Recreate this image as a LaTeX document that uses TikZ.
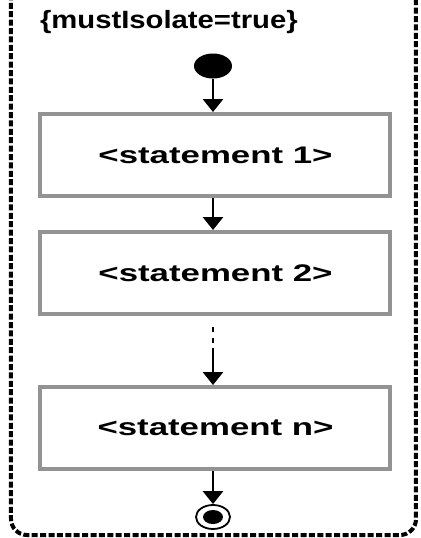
\documentclass[tikz,border=0pt]{standalone}
\usepackage{fontspec}
\setmainfont{Liberation Sans}
\newfontfamily\stmtfont{Liberation Sans}[FakeStretch=1.45]
\newfontfamily\guardfont{Liberation Sans}[FakeStretch=1.17]
\usetikzlibrary{shapes.geometric, arrows.meta, positioning, calc}

\begin{document}
\begin{tikzpicture}[
    x=0.5pt, y=-0.5pt,
    >={Triangle[width=10pt, length=6.5pt]},
    region/.style={draw=black, line width=2pt, dash pattern=on 3pt off 1.2pt, rounded corners=8pt},
    stmt/.style={rectangle, draw=gray!85, line width=2pt, fill=white, minimum width=175pt, minimum height=41pt, font=\stmtfont\bfseries\fontsize{12}{14}\selectfont},
    initial/.style={ellipse, fill=black, minimum width=19pt, minimum height=12.5pt, inner sep=0pt},
    final/.style={ellipse, draw=black, line width=0.9pt, minimum width=17pt, minimum height=12pt, inner sep=0pt, path picture={\fill[black] (path picture bounding box.center) ellipse (5pt and 3.5pt);}},
    flow/.style={->, line width=1.4pt}
]
\useasboundingbox (0,0) rectangle (420,538);

% Region
\draw[region] (11,-30) rectangle (416,535);
\node[anchor=west, font=\guardfont\bfseries\fontsize{12.5}{15}\selectfont] (guard) at (33,22) {\{mustIsolate=true\}};

% Nodes
\node[initial] (start) at (213,66) {};
\node[stmt] (s1) at (215.5,155) {<statement 1>};
\node[stmt] (s2) at (215.5,273) {<statement 2>};
\node[stmt] (sn) at (215.5,428) {<statement n>};
\node[final] (stop) at (213,517) {};

% Flow Arrows
\draw[flow] (start) -- (s1.north -| start);
\draw[flow] (s1.south -| start) -- (s2.north -| start);
\coordinate (gap) at ($(sn.north -| start)+(0,-37)$);
\draw[line width=1.4pt, dash pattern=on 2.5pt off 3pt] ($(s2.south -| start)+(0,11)$) -- ++(0,17);
\draw[flow] (gap) -- (sn.north -| start);
\draw[flow] (sn.south -| start) -- (stop);

\end{tikzpicture}
\end{document}
